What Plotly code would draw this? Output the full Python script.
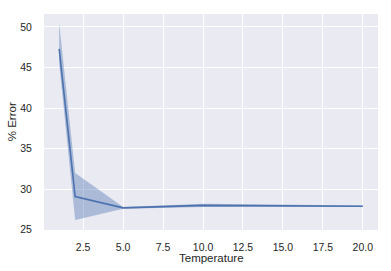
import plotly.graph_objects as go

temperature = [1, 2, 5, 10, 20]
pct_error = [47.3, 29.1, 27.7, 28.0, 27.9]
ci_upper = [50.5, 32.0, 27.8, 28.2, 28.0]
ci_lower = [45.5, 26.2, 27.6, 27.8, 27.8]

line_color = "#4C72B0"
font = "Liberation Sans, Arial, sans-serif"

fig = go.Figure()
fig.add_trace(go.Scatter(
    x=temperature + temperature[::-1],
    y=ci_upper + ci_lower[::-1],
    fill="toself",
    fillcolor="rgba(76,114,176,0.4)",
    line=dict(width=0),
    mode="lines",
    hoverinfo="skip",
    showlegend=False,
))
fig.add_trace(go.Scatter(
    x=temperature, y=pct_error, mode="lines",
    line=dict(color=line_color, width=1.6),
    showlegend=False,
))

fig.update_layout(
    width=391, height=271,
    margin=dict(l=44, r=13, t=14, b=41),
    paper_bgcolor="white",
    plot_bgcolor="#EAEAF2",
    font=dict(family=font, size=10.5, color="#262626"),
    annotations=[
        dict(text="Temperature", xref="paper", yref="paper", x=0.5, y=-0.13,
             xanchor="center", yanchor="middle", showarrow=False,
             font=dict(size=11.5)),
        dict(text="% Error", xref="paper", yref="paper", x=-0.095, y=0.5,
             xanchor="center", yanchor="middle", showarrow=False,
             textangle=-90, font=dict(size=11.5)),
    ],
)
fig.update_xaxes(
    range=[0.05, 20.95],
    tickvals=[2.5, 5, 7.5, 10, 12.5, 15, 17.5, 20],
    ticktext=["2.5", "5.0", "7.5", "10.0", "12.5", "15.0", "17.5", "20.0"],
    showgrid=True, gridcolor="white", gridwidth=1,
    zeroline=False, showline=False, automargin=False,
    ticks="outside", ticklen=7, tickcolor="rgba(0,0,0,0)",
)
fig.update_yaxes(
    range=[24.97, 51.6],
    tickvals=[25, 30, 35, 40, 45, 50],
    showgrid=True, gridcolor="white", gridwidth=1,
    zeroline=False, showline=False, automargin=False,
    ticks="outside", ticklen=9, tickcolor="rgba(0,0,0,0)",
)

fig.write_html(
    "out.html",
    config={"displayModeBar": False},
    post_script="document.body.style.margin='0';document.body.style.overflow='hidden';",
)
